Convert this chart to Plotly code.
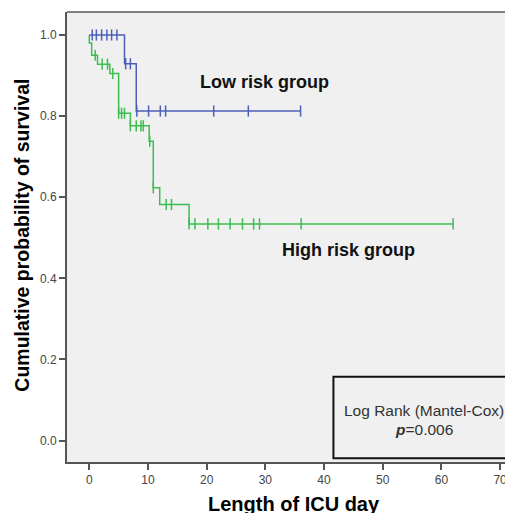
import plotly.graph_objects as go

# ---- data ----
low_event_times = [6.0, 8.0]
low_event_surv = [0.929, 0.8125]
low_end_time = 36.0
low_censor_times = [0.5, 1.2, 2.1, 3.0, 3.8, 4.7, 6.2, 7.0, 8.1, 10.1, 12.1, 13.0, 21.2, 27.1, 36.0]

high_event_times = [0.0, 0.4, 1.4, 3.5, 5.0, 7.0, 10.2, 10.9, 12.0, 17.0]
high_event_surv = [0.98, 0.95, 0.928, 0.905, 0.807, 0.776, 0.738, 0.623, 0.582, 0.534]
high_end_time = 62.0
high_censor_times = [1.0, 2.2, 3.1, 4.0, 5.0, 5.5, 6.0, 7.0, 8.0, 8.8, 9.2, 10.3, 10.9,
                     13.1, 14.0, 17.0, 18.0, 20.2, 22.0, 24.0, 26.1, 28.0, 29.0, 36.1, 62.0]

x_ticks = [0, 10, 20, 30, 40, 50, 60, 70]
y_ticks = [0.0, 0.2, 0.4, 0.6, 0.8, 1.0]
y_tick_labels = ["0.0", "0.2", "0.4", "0.6", "0.8", "1.0"]

BLUE = "#4d60b8"
GREEN = "#3dbd50"
FONT = "Liberation Sans, Arial, sans-serif"


def step_points(ev_t, ev_s, end_t):
    xs = [0.0] + list(ev_t) + [end_t]
    ys = [1.0] + list(ev_s) + [ev_s[-1]]
    return xs, ys


def surv_at(t, ev_t, ev_s):
    s = 1.0
    for et, es in zip(ev_t, ev_s):
        if et <= t:
            s = es
    return s


fig = go.Figure()

for ev_t, ev_s, end_t, cens, col in [
    (high_event_times, high_event_surv, high_end_time, high_censor_times, GREEN),
    (low_event_times, low_event_surv, low_end_time, low_censor_times, BLUE),
]:
    xs, ys = step_points(ev_t, ev_s, end_t)
    fig.add_trace(go.Scatter(x=xs, y=ys, mode="lines", line=dict(color=col, width=1.5, shape="hv"),
                             showlegend=False, hoverinfo="skip"))
    fig.add_trace(go.Scatter(x=cens, y=[surv_at(t, ev_t, ev_s) for t in cens], mode="markers",
                             marker=dict(symbol="line-ns-open", size=8, color=col,
                                         line=dict(color=col, width=1.5)),
                             showlegend=False, hoverinfo="skip"))

# box for the log-rank test
fig.add_shape(type="rect", xref="x", yref="y", x0=41.6, x1=71.7, y0=-0.044, y1=0.157,
              line=dict(color="#111111", width=2), fillcolor="rgba(0,0,0,0)", layer="above")
# top frame line
fig.add_shape(type="line", xref="paper", yref="paper", x0=0, x1=1, y0=1, y1=1,
              line=dict(color="#808080", width=2))

fig.add_annotation(x=57.0, y=0.075, xref="x", yref="y", text="Log Rank (Mantel-Cox)",
                   xanchor="center", yanchor="middle",
                   showarrow=False, font=dict(family=FONT, size=15.5, color="#333333"))
fig.add_annotation(x=57.0, y=0.027, xref="x", yref="y", text="<b><i>p</i></b>=0.006",
                   xanchor="center", yanchor="middle",
                   showarrow=False, font=dict(family=FONT, size=15.5, color="#333333"))
fig.add_annotation(x=29.8, y=0.883, xref="x", yref="y", text="<b>Low risk group</b>",
                   xanchor="center", yanchor="middle",
                   showarrow=False, font=dict(family=FONT, size=18, color="#111111"))
fig.add_annotation(x=44.1, y=0.47, xref="x", yref="y", text="<b>High risk group</b>",
                   xanchor="center", yanchor="middle",
                   showarrow=False, font=dict(family=FONT, size=18, color="#111111"))
# axis titles
fig.add_annotation(x=-0.101, y=0.505, xref="paper", yref="paper",
                   text="<b>Cumulative probability of survival</b>",
                   xanchor="center", yanchor="middle",
                   showarrow=False, textangle=-90, font=dict(family=FONT, size=19.5, color="#000000"))
fig.add_annotation(x=0.508, y=-0.094, xref="paper", yref="paper", text="<b>Length of ICU day</b>",
                   xanchor="center", yanchor="middle",
                   showarrow=False, font=dict(family=FONT, size=20, color="#000000"))

# the page body has an 8px margin, so the figure is shifted by 8px; margins compensate
fig.update_layout(
    width=513, height=513,
    margin=dict(l=59, r=8, t=4, b=59),
    paper_bgcolor="white",
    plot_bgcolor="#f0f0f0",
    font=dict(family=FONT, size=12, color="#444444"),
    xaxis=dict(range=[-3.8, 72.2], tickvals=x_ticks, ticks="outside", ticklen=6, tickwidth=2,
               tickcolor="#555555", showline=True, linecolor="#555555", linewidth=2,
               showgrid=False, zeroline=False, tickfont=dict(size=12, color="#444444")),
    yaxis=dict(range=[-0.053, 1.0567], tickvals=y_ticks, ticktext=y_tick_labels, ticks="outside",
               ticklen=6, tickwidth=2, tickcolor="#555555", showline=True, linecolor="#555555",
               linewidth=2, showgrid=False, zeroline=False, tickfont=dict(size=12, color="#444444")),
)

fig.write_html("out.html")
